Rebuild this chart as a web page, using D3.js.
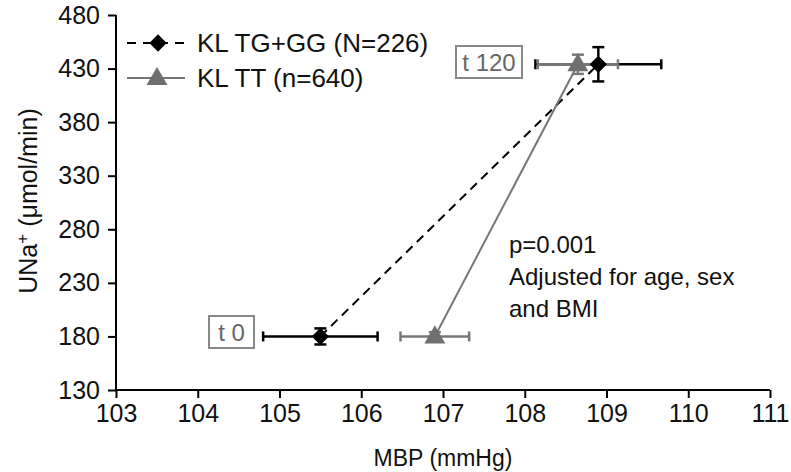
<!DOCTYPE html>
<html><head><meta charset="utf-8">
<script src="https://cdn.jsdelivr.net/npm/d3@7"></script>
<style>body{margin:0;background:#fff}svg{display:block;font-family:"Liberation Sans",Arial,sans-serif}</style>
</head><body><svg id="c" width="791" height="472"></svg>
<script>
const seriesNames = ["KL TG+GG (N=226)", "KL TT (n=640)"];
const timeLabels = ["t 0", "t 120"];
const mbpTG = [105.5, 108.9];
const unaTG = [180, 434];
const mbpErrTG = [0.7, 0.77];
const unaErrTG = [7.5, 16];
const mbpTT = [106.9, 108.65];
const unaTT = [180, 434];
const mbpErrTT = [0.42, 0.49];
const unaErrTT = [4, 9];
const xTicks = [103,104,105,106,107,108,109,110,111];
const yTicks = [130,180,230,280,330,380,430,480];
const noteLines = ["p=0.001", "Adjusted for age, sex", "and BMI"];

const svg = d3.select("#c");
const x = d3.scaleLinear().domain([103,111]).range([116,770]);
const y = d3.scaleLinear().domain([130,480]).range([390,15]);
const TICKFS = 25, LEGFS = 26, NOTEFS = 24, TITLEFS = 23;

// axes
const xa = svg.append("g").attr("transform","translate(0,390)")
  .call(d3.axisBottom(x).tickValues(xTicks).tickSize(8).tickPadding(6).tickFormat(d3.format("d")));
const ya = svg.append("g").attr("transform","translate(116,0)")
  .call(d3.axisLeft(y).tickValues(yTicks).tickSize(8).tickPadding(8).tickFormat(d3.format("d")));
[xa,ya].forEach(g=>{
  g.select(".domain").attr("stroke","#000").attr("stroke-width",2).attr("d", g===xa ? "M116,0H770" : "M0,15V390");
  g.selectAll(".tick line").attr("stroke","#000").attr("stroke-width",2);
  g.selectAll(".tick text").attr("font-size",TICKFS).attr("fill","#111").attr("font-family","Liberation Sans, Arial, sans-serif");
});
svg.append("text").attr("x",443).attr("y",466).attr("text-anchor","middle").attr("font-size",TITLEFS).attr("fill","#111").text("MBP (mmHg)");
const yt = svg.append("text").attr("transform","translate(37,201) rotate(-90)").attr("text-anchor","middle").attr("font-size",25).attr("fill","#111");
yt.append("tspan").text("UNa");
yt.append("tspan").attr("dy",-9).attr("font-size",17).text("+");
yt.append("tspan").attr("dy",9).text(" (\u03bcmol/min)");

const black = "#000", gray = "#777";
const diamond = d3.symbol().type(d3.symbolSquare).size(150)();
const tri = d3.symbol().type(d3.symbolTriangle).size(190)();

function pts(mx,uy,ex,ey){ return mx.map((v,i)=>({x:v,y:uy[i],ex:ex[i],ey:ey[i]})); }
const tg = pts(mbpTG,unaTG,mbpErrTG,unaErrTG);
const tt = pts(mbpTT,unaTT,mbpErrTT,unaErrTT);
const line = d3.line().x(d=>x(d.x)).y(d=>y(d.y));

svg.append("path").attr("d",line(tg)).attr("fill","none").attr("stroke",black).attr("stroke-width",2).attr("stroke-dasharray","9,6");
svg.append("path").attr("d",line(tt)).attr("fill","none").attr("stroke",gray).attr("stroke-width",2);

function hErr(data,col){
  const g = svg.append("g").attr("stroke",col).attr("stroke-width",2.5);
  data.forEach(d=>{
    g.append("line").attr("x1",x(d.x-d.ex)).attr("x2",x(d.x+d.ex)).attr("y1",y(d.y)).attr("y2",y(d.y));
    [d.x-d.ex,d.x+d.ex].forEach(v=>g.append("line").attr("x1",x(v)).attr("x2",x(v)).attr("y1",y(d.y)-5).attr("y2",y(d.y)+5));
  });
}
function vErr(data,col){
  const g = svg.append("g").attr("stroke",col).attr("stroke-width",2.5);
  data.forEach(d=>{
    g.append("line").attr("x1",x(d.x)).attr("x2",x(d.x)).attr("y1",y(d.y-d.ey)).attr("y2",y(d.y+d.ey));
    [d.y-d.ey,d.y+d.ey].forEach(v=>g.append("line").attr("x1",x(d.x)-6).attr("x2",x(d.x)+6).attr("y1",y(v)).attr("y2",y(v)));
  });
}
hErr(tg,black);
hErr(tt,gray);
vErr(tt,gray);
svg.append("g").selectAll("path").data(tt).join("path").attr("d",tri)
  .attr("transform",d=>`translate(${x(d.x)},${y(d.y)+1})`).attr("fill","#6f6f6f");
svg.append("g").selectAll("path").data(tg).join("path").attr("d",diamond)
  .attr("transform",d=>`translate(${x(d.x)},${y(d.y)}) rotate(45)`).attr("fill",black);
vErr(tg,black);

// time boxes
const boxes = [{t:timeLabels[0], x:209, y:316, w:45, h:32},{t:timeLabels[1], x:456, y:46, w:66, h:32}];
boxes.forEach(b=>{
  svg.append("rect").attr("x",b.x).attr("y",b.y).attr("width",b.w).attr("height",b.h).attr("fill","#fff").attr("stroke","#888").attr("stroke-width",2);
  svg.append("text").attr("x",b.x+b.w/2).attr("y",b.y+b.h/2+8.5).attr("text-anchor","middle").attr("font-size",24).attr("fill","#666").text(b.t);
});

// legend
const lg = svg.append("g");
lg.append("line").attr("x1",127).attr("x2",190).attr("y1",43).attr("y2",43).attr("stroke",black).attr("stroke-width",2).attr("stroke-dasharray","9,7");
lg.append("path").attr("d",diamond).attr("transform","translate(158,43) rotate(45)").attr("fill",black);
lg.append("text").attr("x",197).attr("y",52).attr("font-size",LEGFS).attr("fill","#111").text(seriesNames[0]);
lg.append("line").attr("x1",127).attr("x2",185).attr("y1",78).attr("y2",78).attr("stroke",gray).attr("stroke-width",2);
lg.append("path").attr("d",tri).attr("transform","translate(157,79)").attr("fill","#6f6f6f");
lg.append("text").attr("x",197).attr("y",87).attr("font-size",LEGFS).attr("fill","#111").text(seriesNames[1]);

// note
noteLines.forEach((t,i)=>svg.append("text").attr("x",509).attr("y",253+i*32).attr("font-size",NOTEFS).attr("fill","#111").text(t));
</script></body></html>
